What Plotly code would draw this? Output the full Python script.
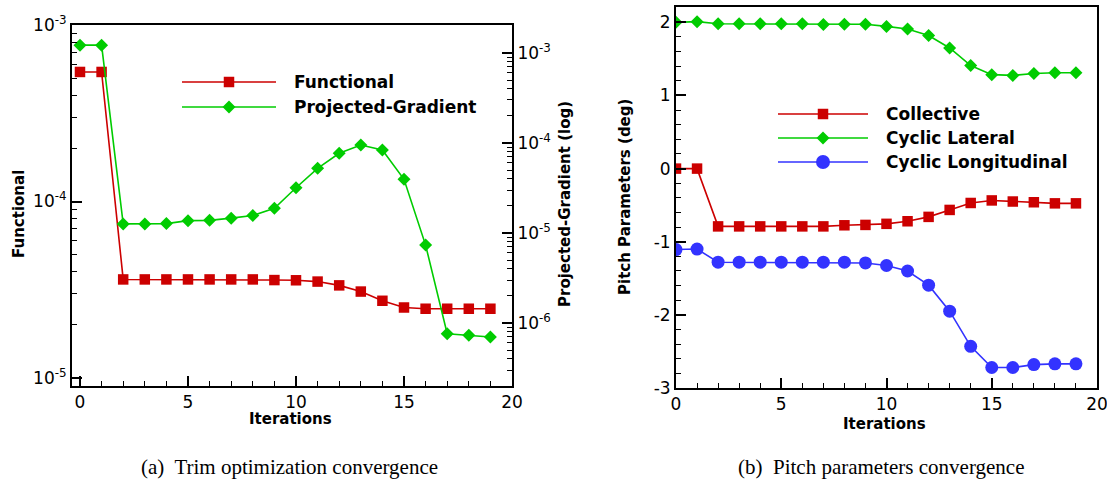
import plotly.graph_objects as go

# ---------------- data ----------------
iterations = list(range(20))
functional = [5.42e-4, 5.42e-4, 3.62e-5, 3.62e-5, 3.62e-5, 3.62e-5, 3.62e-5, 3.62e-5,
              3.62e-5, 3.59e-5, 3.58e-5, 3.52e-5, 3.35e-5, 3.09e-5, 2.74e-5, 2.51e-5,
              2.47e-5, 2.47e-5, 2.47e-5, 2.47e-5]
projected_gradient = [1.22e-3, 1.22e-3, 1.26e-5, 1.26e-5, 1.27e-5, 1.37e-5, 1.38e-5, 1.46e-5,
                      1.56e-5, 1.88e-5, 3.18e-5, 5.22e-5, 7.67e-5, 9.48e-5, 8.34e-5, 3.94e-5,
                      7.33e-6, 7.6e-7, 7.29e-7, 7.0e-7]
collective = [0.0, 0.0, -0.79, -0.79, -0.79, -0.79, -0.79, -0.79, -0.775, -0.77,
              -0.755, -0.72, -0.66, -0.565, -0.47, -0.435, -0.45, -0.46, -0.475, -0.475]
cyclic_lateral = [2.0, 2.01, 1.98, 1.98, 1.98, 1.98, 1.98, 1.97, 1.975, 1.975,
                  1.945, 1.91, 1.82, 1.65, 1.41, 1.285, 1.275, 1.30, 1.31, 1.31]
cyclic_longitudinal = [-1.107, -1.10, -1.28, -1.28, -1.28, -1.28, -1.28, -1.28, -1.28, -1.29,
                       -1.325, -1.40, -1.594, -1.95, -2.43, -2.72, -2.72, -2.68, -2.67, -2.67]

left_names = ["Functional", "Projected-Gradient"]
right_names = ["Collective", "Cyclic Lateral", "Cyclic Longitudinal"]
x_ticks = [0, 5, 10, 15, 20]
log_left_ticks = [1e-5, 1e-4, 1e-3]
log_left_text = ["10<sup>-5</sup>", "10<sup>-4</sup>", "10<sup>-3</sup>"]
log_right_ticks = [1e-6, 1e-5, 1e-4, 1e-3]
log_right_text = ["10<sup>-6</sup>", "10<sup>-5</sup>", "10<sup>-4</sup>", "10<sup>-3</sup>"]
pitch_ticks = [-3, -2, -1, 0, 1, 2]
pitch_text = ["-3", "-2", "-1", "0", "1", "2"]

# ---------------- style ----------------
W, H = 1107, 480
RED, GREEN, BLUE = "#cc0000", "#00cc00", "#3333ff"
TICKFONT = dict(family="DejaVu Sans", size=17, color="black")
BOLD = dict(family="DejaVu Sans", size=15, color="black", weight="bold")
LEGFONT = dict(family="DejaVu Sans", size=17, color="black", weight="bold")
CAPFONT = dict(family="Liberation Serif", size=21, color="black")

def px(x):
    return x / W

def py(y):
    return 1 - y / H

minor_log = [m * 10.0 ** e for e in range(-7, -1) for m in range(2, 10)]

fig = go.Figure()

sq = dict(symbol="square", size=10.5, color=RED)
di = dict(symbol="diamond", size=10, color=GREEN)
ci = dict(symbol="circle", size=13, color=BLUE)

# left plot
fig.add_trace(go.Scatter(x=iterations, y=functional, mode="lines+markers", name=left_names[0],
                         line=dict(color=RED, width=1.6), marker=sq, xaxis="x", yaxis="y",
                         showlegend=False))
fig.add_trace(go.Scatter(x=iterations, y=projected_gradient, mode="lines+markers", name=left_names[1],
                         line=dict(color=GREEN, width=1.6), marker=di, xaxis="x", yaxis="y2",
                         showlegend=False))
# right plot
fig.add_trace(go.Scatter(x=iterations, y=collective, mode="lines+markers", name=right_names[0],
                         line=dict(color=RED, width=1.6), marker=sq, xaxis="x2", yaxis="y3",
                         showlegend=False))
fig.add_trace(go.Scatter(x=iterations, y=cyclic_lateral, mode="lines+markers", name=right_names[1],
                         line=dict(color=GREEN, width=1.6), marker=di, xaxis="x2", yaxis="y3",
                         showlegend=False))
fig.add_trace(go.Scatter(x=iterations, y=cyclic_longitudinal, mode="lines+markers", name=right_names[2],
                         line=dict(color=BLUE, width=1.6), marker=ci, xaxis="x2", yaxis="y3",
                         showlegend=False))

# legend samples drawn on a hidden helper axis in pixel units
legend_rows = [
    (182, 276, 82, RED, sq, left_names[0]),
    (182, 276, 107, GREEN, di, left_names[1]),
    (778, 868, 114, RED, sq, right_names[0]),
    (778, 868, 138, GREEN, di, right_names[1]),
    (778, 868, 162, BLUE, dict(ci, size=14), right_names[2]),
]
for x0, x1, yy, col, mk, name in legend_rows:
    fig.add_trace(go.Scatter(x=[x0, (x0 + x1) / 2, x1], y=[yy, yy, yy], mode="lines",
                             line=dict(color=col, width=1.6), xaxis="x3", yaxis="y4",
                             showlegend=False, hoverinfo="skip"))
    fig.add_trace(go.Scatter(x=[(x0 + x1) / 2], y=[yy], mode="markers", marker=mk,
                             xaxis="x3", yaxis="y4", showlegend=False, hoverinfo="skip"))
    fig.add_annotation(x=px(x1 + 16), y=py(yy), xref="paper", yref="paper", text=name,
                       showarrow=False, xanchor="left", yanchor="middle", font=LEGFONT)

axis_common = dict(showline=True, linewidth=2, linecolor="black", showgrid=False, zeroline=False,
                   ticks="inside", tickwidth=1.5, tickcolor="black", tickfont=TICKFONT,
                   automargin=False, ticklabeloverflow="allow")
minor_common = dict(ticks="inside", ticklen=5, tickwidth=1, tickcolor="black", showgrid=False)

fig.update_layout(
    template="none",
    width=W, height=H, margin=dict(l=0, r=0, t=0, b=0, autoexpand=False),
    paper_bgcolor="white", plot_bgcolor="rgba(0,0,0,0)", showlegend=False,
    xaxis=dict(axis_common, domain=[px(72), px(512)], range=[-0.37, 20], anchor="y",
               tickvals=x_ticks, ticklen=10, mirror=True,
               minor=dict(minor_common, dtick=1)),
    yaxis=dict(axis_common, domain=[py(386), py(25)], type="log", range=[-5.045, -3], anchor="x",
               tickvals=log_left_ticks, ticktext=log_left_text, ticklen=10, mirror=False,
               minor=dict(minor_common, tickvals=minor_log)),
    yaxis2=dict(axis_common, type="log", range=[-6.70, -2.69], anchor="x", overlaying="y", side="right",
                tickvals=log_right_ticks, ticktext=log_right_text, ticklen=10,
                minor=dict(minor_common, tickvals=minor_log)),
    xaxis2=dict(axis_common, domain=[px(676), px(1097)], range=[0, 20], anchor="y3",
                tickvals=x_ticks, ticklen=10, mirror=True,
                minor=dict(minor_common, dtick=1)),
    yaxis3=dict(axis_common, domain=[py(388), py(7)], range=[-3, 2.21], anchor="x2",
                tickvals=pitch_ticks, ticktext=pitch_text, ticklen=10, mirror=True,
                minor=dict(minor_common, dtick=0.2)),
    xaxis3=dict(domain=[0, 1], range=[0, W], visible=False, fixedrange=True, anchor="y4"),
    yaxis4=dict(domain=[0, 1], range=[H, 0], visible=False, fixedrange=True, anchor="x3"),
)

# axis titles
def label(x, y, text, font, angle=0):
    fig.add_annotation(x=px(x), y=py(y), xref="paper", yref="paper", text=text,
                       showarrow=False, xanchor="center", yanchor="middle",
                       textangle=angle, font=font)

label(290, 419, "Iterations", BOLD)
label(884, 424, "Iterations", BOLD)
label(19, 214, "Functional", BOLD, -90)
label(565, 204, "Projected-Gradient (log)", BOLD, -90)
label(625, 197, "Pitch Parameters (deg)", BOLD, -90)

# captions
label(289, 467, "(a)\u00a0 Trim optimization convergence", CAPFONT)
label(881, 467, "(b)\u00a0 Pitch parameters convergence", CAPFONT)

fig.write_html("out.html", config={"displayModeBar": False},
               post_script="document.body.style.margin='0px';document.body.style.overflow='hidden';")
